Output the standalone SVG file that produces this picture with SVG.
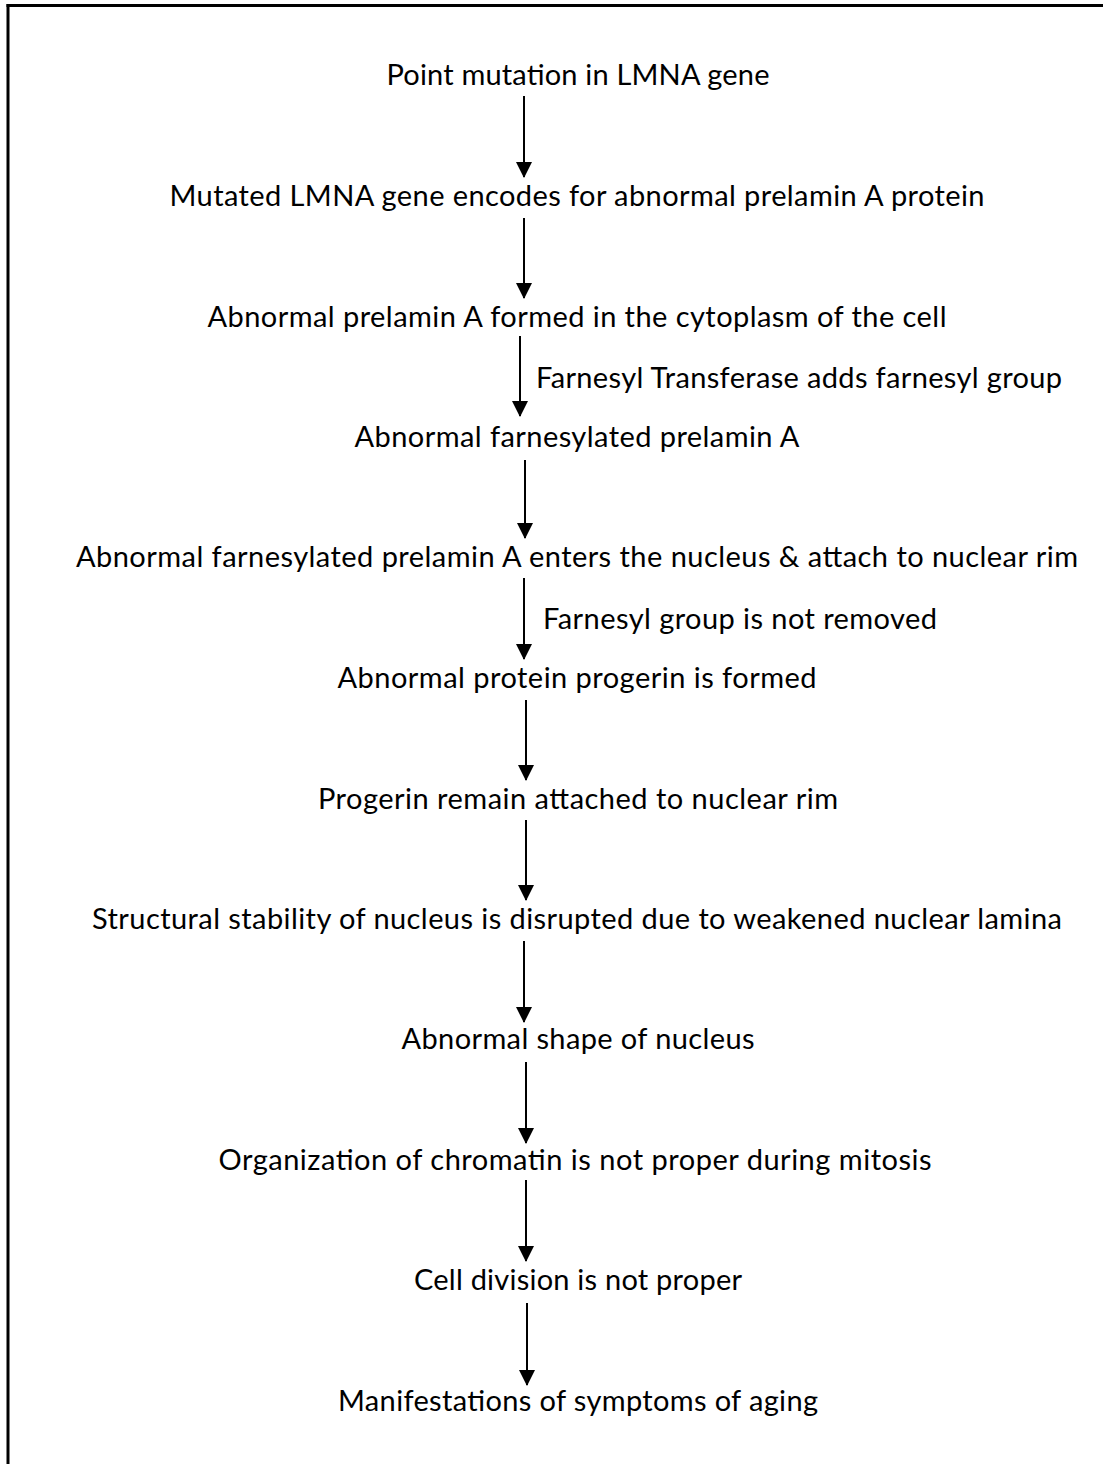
<svg xmlns="http://www.w3.org/2000/svg" width="1103" height="1464" viewBox="0 0 1103 1464">
<defs>
<marker id="ah" markerWidth="16" markerHeight="17" refX="15" refY="8" orient="auto" markerUnits="userSpaceOnUse">
<path d="M0,0 L16,8 L0,16 Z" fill="#000"/>
</marker>
<style>
.t{font-family:Lato,"Open Sans","Liberation Sans",sans-serif;font-size:29px;fill:#000;}
.c{text-anchor:middle;}
.a{stroke:#000;stroke-width:2;fill:none;}
</style>
</defs>
<rect width="1103" height="1464" fill="#fff"/>
<g id="frame">
<line x1="6.5" y1="5.5" x2="1103" y2="5.5" stroke="#000" stroke-width="3"/>
<line x1="8" y1="4" x2="8" y2="1464" stroke="#000" stroke-width="3"/>
</g>
<g id="n1"><text class="t c" x="578" y="85" textLength="383">Point mutation in LMNA gene</text></g>
<g id="n2"><text class="t c" x="577" y="206" textLength="815">Mutated LMNA gene encodes for abnormal prelamin A protein</text></g>
<g id="n3"><text class="t c" x="577" y="327" textLength="739">Abnormal prelamin A formed in the cytoplasm of the cell</text></g>
<g id="n4"><text class="t c" x="577" y="447" textLength="445">Abnormal farnesylated prelamin A</text></g>
<g id="n5"><text class="t c" x="577" y="567" textLength="1002">Abnormal farnesylated prelamin A enters the nucleus &amp; attach to nuclear rim</text></g>
<g id="n6"><text class="t c" x="577" y="688" textLength="479">Abnormal protein progerin is formed</text></g>
<g id="n7"><text class="t c" x="578" y="809" textLength="520">Progerin remain attached to nuclear rim</text></g>
<g id="n8"><text class="t c" x="577" y="929" textLength="970">Structural stability of nucleus is disrupted due to weakened nuclear lamina</text></g>
<g id="n9"><text class="t c" x="578" y="1049" textLength="353">Abnormal shape of nucleus</text></g>
<g id="n10"><text class="t c" x="575" y="1170" textLength="713">Organization of chromatin is not proper during mitosis</text></g>
<g id="n11"><text class="t c" x="578" y="1290" textLength="328">Cell division is not proper</text></g>
<g id="n12"><text class="t c" x="578" y="1411" textLength="480">Manifestations of symptoms of aging</text></g>
<g id="connectors">
<line class="a" x1="524" y1="96" x2="524" y2="177" marker-end="url(#ah)"/>
<line class="a" x1="524" y1="218" x2="524" y2="298" marker-end="url(#ah)"/>
<line class="a" x1="520" y1="336" x2="520" y2="416" marker-end="url(#ah)"/>
<line class="a" x1="525" y1="460" x2="525" y2="538" marker-end="url(#ah)"/>
<line class="a" x1="524" y1="578" x2="524" y2="659" marker-end="url(#ah)"/>
<line class="a" x1="526" y1="700" x2="526" y2="780" marker-end="url(#ah)"/>
<line class="a" x1="526" y1="820" x2="526" y2="900" marker-end="url(#ah)"/>
<line class="a" x1="524" y1="941" x2="524" y2="1022" marker-end="url(#ah)"/>
<line class="a" x1="526" y1="1062" x2="526" y2="1143" marker-end="url(#ah)"/>
<line class="a" x1="526" y1="1180" x2="526" y2="1261" marker-end="url(#ah)"/>
<line class="a" x1="527" y1="1303" x2="527" y2="1385" marker-end="url(#ah)"/>
<text class="t" x="536" y="388" textLength="526">Farnesyl Transferase adds farnesyl group</text>
<text class="t" x="543" y="629" textLength="394">Farnesyl group is not removed</text>
</g>
</svg>
